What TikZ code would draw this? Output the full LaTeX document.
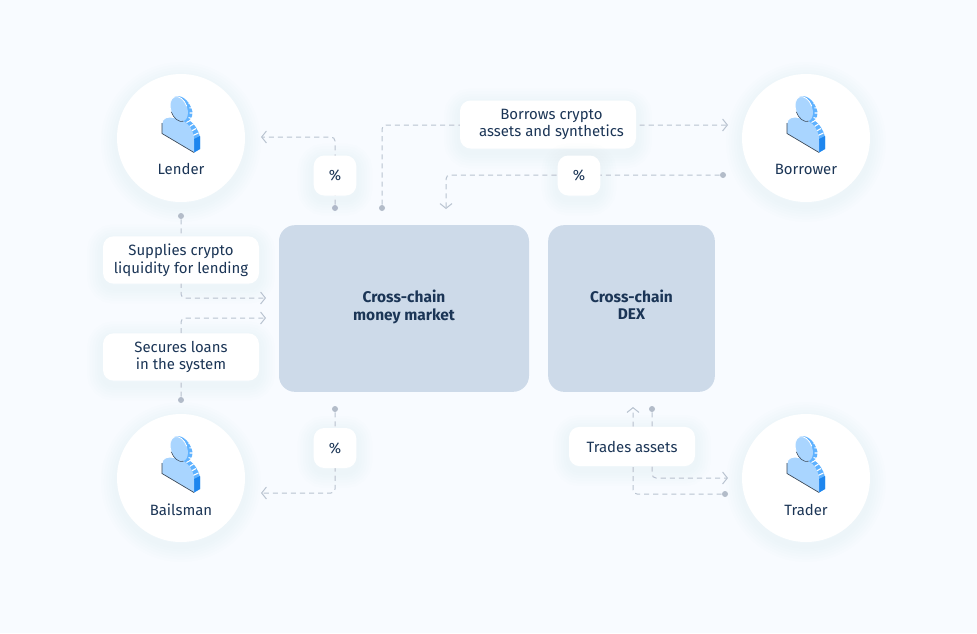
\documentclass[tikz,border=0pt]{standalone}
\usepackage{fontspec}
\setmainfont{Fira Sans}
\usetikzlibrary{arrows.meta}
\definecolor{pagebg}{HTML}{F8FBFF}
\definecolor{navy}{HTML}{1B3556}
\definecolor{flowgray}{HTML}{B9C3D0}
\definecolor{dotgray}{HTML}{B3BCC9}
\definecolor{panel}{HTML}{CDDAE9}
\definecolor{haze}{HTML}{6F9BD8}
\definecolor{iconface}{HTML}{A9D5FF}
\definecolor{iconmid}{HTML}{5FB2FF}
\definecolor{iconside}{HTML}{1E86EE}
\definecolor{iconline}{HTML}{3A4654}
\tikzset{
    haloring/.style={preaction={draw=haze,draw opacity=0.009,line width=#1,transform canvas={yshift=-3pt}}},
    softshadow/.style={haloring=24pt,haloring=20pt,haloring=16pt,haloring=12pt,haloring=8pt,haloring=4pt},
    actor/.style={circle,fill=white,minimum size=96pt,inner sep=0pt,softshadow},
    actorname/.style={text=navy,font=\fontsize{11.2pt}{13pt}\selectfont},
    tag/.style={rectangle,rounded corners=8pt,fill=white,text=navy,align=center,inner sep=0pt,softshadow,font=\fontsize{11.2pt}{13.4pt}\selectfont},
    market/.style={rectangle,rounded corners=12pt,fill=panel,inner sep=0pt},
    marketname/.style={text=navy,align=center,font=\fontsize{11.6pt}{12.9pt}\selectfont\bfseries},
    stop/.style={circle,fill=dotgray,minimum size=4.5pt,inner sep=0pt},
    flow/.style={draw=flowgray,line width=0.75pt,dash pattern=on 3.8pt off 3pt,rounded corners=3pt},
    flowto/.style={flow,-{Straight Barb[length=3.6pt,width=9pt,line width=0.75pt]}},
    pics/personicon/.style={code={
        \fill[iconmid] (24,27.5) .. controls (34,25) and (46,31) .. (50,47) -- (50,59) -- (44,62.5) -- (44,50) .. controls (43,38) and (34,30) .. (24,27.5);
        \fill[iconside] (44,49) -- (50,46) -- (50,59) -- (44,62.5) -- cycle;
        \draw[white,line width=0.8pt] (33,29.5) -- (36,27.5) (36.5,32.5) -- (40,30.5) (39.5,36.5) -- (43.5,34) (41.5,41) -- (46,38.5) (43,45.5) -- (48.5,43);
        \fill[iconface] (12,43.5) -- (12,33) .. controls (12,28) and (18,26) .. (24,27.5)
            .. controls (34,29) and (44,37) .. (44,50) -- (44,62.5) -- cycle;
        \draw[white,line width=0.7pt] (12,33) .. controls (12,28) and (18,26) .. (24,27.5);
        \draw[iconline,line width=0.5pt] (12,33) -- (12,43.5) -- (44,62.5);
        \fill[iconmid] (24.5,6.8) .. controls (28,4.5) and (39,7) .. (42.5,22) .. controls (43,28) and (39,32.5) .. (33.5,31.2) -- cycle;
        \draw[white,line width=0.8pt] (36,9.5) -- (38.5,8) (38.5,13.5) -- (41.5,12.5) (39.5,18) -- (43,17.5) (39.5,23) -- (43,23) (38.5,27.5) -- (41.5,28.5);
        \fill[iconface] (24.5,6.8) .. controls (28.8,5.2) and (34.35,9.5) .. (36.8,16.2) .. controls (39.25,22.9) and (37.8,29.6) .. (33.5,31.2)
            .. controls (29.2,32.8) and (23.65,28.5) .. (21.2,21.8) .. controls (18.75,15.1) and (20.2,8.4) .. (24.5,6.8) -- cycle;
        \draw[white,line width=0.6pt] (21.2,21.8) .. controls (18.75,15.1) and (20.2,8.4) .. (24.5,6.8) .. controls (28.8,5.2) and (34.35,9.5) .. (36.8,16.2);
        \draw[iconline,line width=0.4pt] (21.2,21.8) .. controls (23.65,28.5) and (29.2,32.8) .. (33.5,31.2);
    }}
}
\begin{document}
\begin{tikzpicture}[x=0.75pt,y=-0.75pt]
    \useasboundingbox[fill=pagebg] (0,0) rectangle (977,633);

    \node[actor] (lender) at (181,138) {};
    \node[actor] (borrower) at (806,138) {};
    \node[actor] (bailsman) at (181,478) {};
    \node[actor] (trader) at (806,478) {};
    \pic at (150,90) {personicon};
    \pic at (775,90) {personicon};
    \pic at (150,430) {personicon};
    \pic at (775,430) {personicon};
    \node[actorname] (lendername) at (181,169) {Lender};
    \node[actorname] (borrowername) at (806,169) {Borrower};
    \node[actorname] (bailsmanname) at (181,510) {Bailsman};
    \node[actorname] (tradername) at (806,510) {Trader};

    \node[market,minimum width=187.5pt,minimum height=125pt] (money) at (404,308.5) {};
    \node[market,minimum width=125pt,minimum height=125pt] (dex) at (631.5,308.5) {};
    \node[marketname] (moneyname) at (404,307) {Cross-chain\\money market};
    \node[marketname] (dexname) at (631.5,305) {Cross-chain\\DEX};

    \node[stop] (s1) at (335,208) {};
    \node[stop] (s2) at (181,216) {};
    \node[stop] (s3) at (181,400) {};
    \node[stop] (s4) at (382,208) {};
    \node[stop] (s5) at (723,175) {};
    \node[stop] (s6) at (335,409) {};
    \node[stop] (s7) at (652,409) {};
    \node[stop] (s8) at (725,494) {};
    \coordinate (e1) at (261,137);
    \coordinate (e2) at (266,298);
    \coordinate (e3) at (266,318);
    \coordinate (e4) at (728,125);
    \coordinate (e5) at (446,209);
    \coordinate (e6) at (261,493);
    \coordinate (e7) at (728,478);
    \coordinate (e8) at (633,407);

    \draw[flowto] (s1) |- (e1);
    \draw[flowto] (s2) |- (e2);
    \draw[flowto] (s3) |- (e3);
    \draw[flowto] (s4) |- (e4);
    \draw[flowto] (s5) -| (e5);
    \draw[flowto] (s6) |- (e6);
    \draw[flowto] (s7) |- (e7);
    \draw[flowto] (s8) -| (e8);

    \node[tag,minimum width=117pt,minimum height=35.5pt] (supplies) at (181,260) {Supplies crypto\\liquidity for lending};
    \node[tag,minimum width=117pt,minimum height=35.5pt] (secures) at (181,357) {Secures loans\\in the system};
    \node[tag,minimum width=132pt,minimum height=36pt] (borrows) at (548,124.5) {\hspace*{5.2pt}Borrows crypto\\\hspace*{5.2pt}assets and synthetics};
    \node[tag,minimum width=94.5pt,minimum height=29.5pt] (trades) at (632,446.5) {Trades assets};
    \node[tag,minimum width=32pt,minimum height=30pt] (fee1) at (335,175.5) {\%};
    \node[tag,minimum width=32pt,minimum height=30pt] (fee2) at (579,175.5) {\%};
    \node[tag,minimum width=32pt,minimum height=30pt] (fee3) at (335,448) {\%};
\end{tikzpicture}
\end{document}
